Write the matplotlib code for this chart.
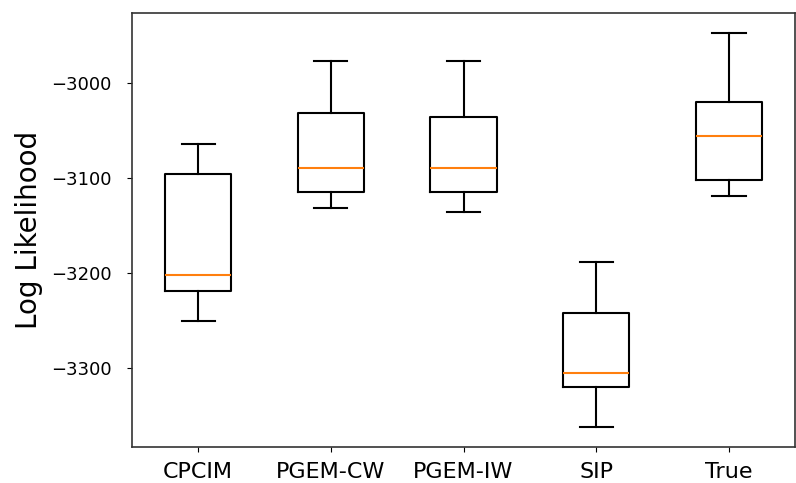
import matplotlib
matplotlib.use("Agg")
import matplotlib.pyplot as plt

# --- Datos ---
methods = ['CPCIM', 'PGEM-CW', 'PGEM-IW', 'SIP', 'True']
whisker_low = [-3251.2, -3131.9, -3135.8, -3362.1, -3118.9]
q1 = [-3219.6, -3115.1, -3115.1, -3320.3, -3102.4]
medians = [-3202.7, -3089.1, -3089.5, -3305.6, -3056.4]
q3 = [-3095.8, -3031.2, -3035.4, -3242.7, -3020.6]
whisker_high = [-3064.5, -2976.8, -2976.8, -3188.4, -2947.4]


def build_stats():
    stats = []
    for i, name in enumerate(methods):
        stats.append({
            'label': name,
            'whislo': whisker_low[i],
            'q1': q1[i],
            'med': medians[i],
            'q3': q3[i],
            'whishi': whisker_high[i],
            'fliers': [],
        })
    return stats


fig = plt.figure(figsize=(7.96, 4.83), dpi=100)
ax = fig.add_axes([0.1655, 0.0752, 0.8336, 0.8985])

lw = 1.5
ax.bxp(build_stats(), showfliers=False,
       boxprops=dict(linewidth=lw, color='black'),
       whiskerprops=dict(linewidth=lw, color='black'),
       capprops=dict(linewidth=lw, color='black'),
       medianprops=dict(linewidth=lw, color='#ff7f0e'))

ax.set_ylim(-3383.2, -2926)
ax.set_yticks([-3300, -3200, -3100, -3000])
ax.set_ylabel('Log Likelihood', fontsize=20, labelpad=6)
ax.tick_params(axis='x', labelsize=16, pad=7.5)
ax.tick_params(axis='y', labelsize=13, pad=11)
for s in ax.spines.values():
    s.set_color('#333333')
    s.set_linewidth(1.2)

fig.savefig('out.png', dpi=100)
